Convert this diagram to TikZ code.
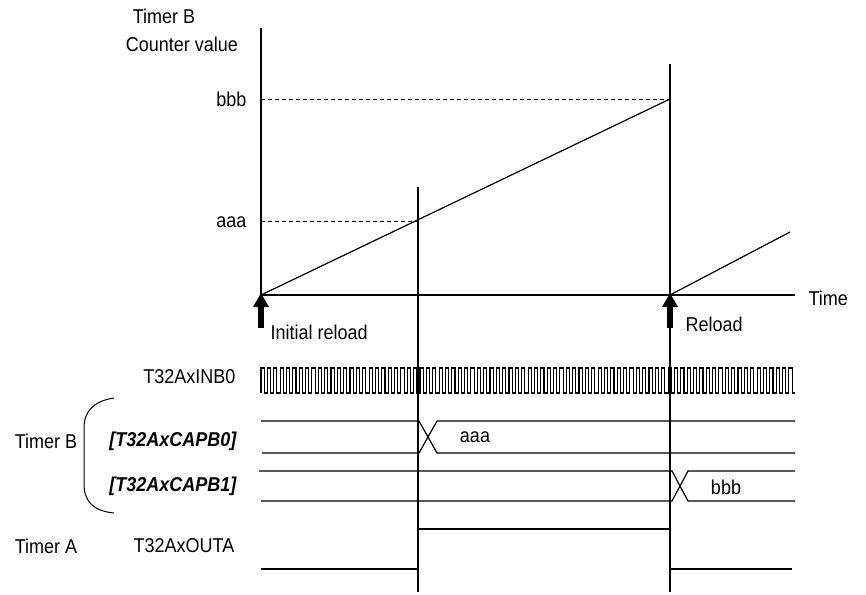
\documentclass[tikz,border=0pt]{standalone}
\usepackage{fontspec}
\setmainfont[FakeStretch=0.9]{Liberation Sans}
\usetikzlibrary{arrows.meta}
\begin{document}
\begin{tikzpicture}[x=1pt,y=-1pt, line width=1.2pt,
  txt/.style={font=\fontsize{20}{23}\selectfont, inner sep=0pt},
  btxt/.style={font=\fontsize{20}{23}\selectfont\bfseries\itshape, inner sep=0pt},
  dashline/.style={dashed, dash pattern=on 4pt off 3pt, line width=1pt},
  bigarrow/.style={line width=6pt, -{Triangle[length=14pt,width=15pt]}},
  wave/.style={line width=1.2pt}]
\useasboundingbox (0,0) rectangle (866,594);

% coordinates
\coordinate (O) at (261,295);
\coordinate (Ytop) at (261,28);
\coordinate (Xend) at (795,295);
\coordinate (P2) at (670,99);
\coordinate (B0) at (261,99);
\coordinate (A0) at (261,221);
\coordinate (A1) at (418,221);
\coordinate (R2s) at (670,295);
\coordinate (R2e) at (790,232);
\coordinate (V1t) at (418,187);
\coordinate (V1b) at (418,592);
\coordinate (V2t) at (670,64);
\coordinate (V2b) at (670,592);
\coordinate (Ar1s) at (261,328);
\coordinate (Ar1e) at (261,293);
\coordinate (Ar2s) at (670,328);
\coordinate (Ar2e) at (670,293);

% axes
\draw (Ytop) -- (O) -- (Xend);
\draw (O) -- (P2);
\draw (R2s) -- (R2e);
\draw[dashline] (B0) -- (P2);
\draw[dashline] (A0) -- (A1);
\draw[line width=1.2pt] (V1t) -- (V1b);
\draw[line width=1.2pt] (V2t) -- (V2b);
\draw[bigarrow] (Ar1s) -- (Ar1e);
\draw[bigarrow] (Ar2s) -- (Ar2e);

% axis labels
\node[txt] (tb) at (164,16) {Timer B};
\node[txt] (cv) at (182,44) {Counter value};
\node[txt, anchor=east] (lbbb) at (247,99) {bbb};
\node[txt, anchor=east] (laaa) at (247,222) {aaa};
\node[txt, anchor=west] (ltime) at (808,298) {Time};
\node[txt, anchor=west] (linit) at (270,332) {Initial reload};
\node[txt, anchor=west] (lrel) at (685,324) {Reload};

% signal labels
\node[txt, anchor=east] (linb) at (236,377) {T32AxINB0};
\node[txt] (ltimerb) at (46,441) {Timer B};
\node[btxt, anchor=east] (lcap0) at (237,441) {[T32AxCAPB0]};
\node[btxt, anchor=east] (lcap1) at (237,486) {[T32AxCAPB1]};
\node[txt] (ltimera) at (46,546) {Timer A};
\node[txt, anchor=east] (louta) at (235,546) {T32AxOUTA};

% brace
\draw[line width=1pt] (114,398) .. controls (94,401) and (84,411) .. (84,428) -- (84,484) .. controls (84,502) and (94,511) .. (114,513);

% clock
\draw[line width=1.1pt] (261,393) \foreach \i in {0,...,83} { -- ++(0,-25) -- ++(3.18,0) -- ++(0,25) -- ++(3.18,0) };

% CAPB0
\draw[wave] (261,421) -- (419,421) -- (437,453) -- (795,453);
\draw[wave] (262,453) -- (419,453) -- (437,421) -- (795,421);
\node[txt] (vaaa) at (475,437) {aaa};

% CAPB1
\draw[wave] (259,471) -- (672,471) -- (688,501) -- (795,501);
\draw[wave] (261,501) -- (672,501) -- (688,471) -- (795,471);
\node[txt] (vbbb) at (726,487) {bbb};

% OUTA
\draw[wave] (261,569) -- (418,569) -- (418,529) -- (670,529) -- (670,569) -- (792,569);
\end{tikzpicture}
\end{document}
